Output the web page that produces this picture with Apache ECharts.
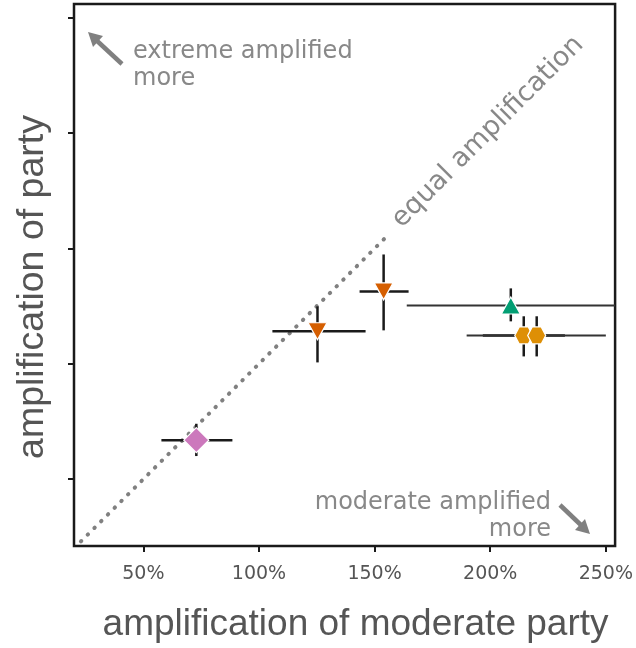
<!DOCTYPE html>
<html>
<head>
<meta charset="utf-8">
<script src="https://cdn.jsdelivr.net/npm/echarts@6/dist/echarts.min.js"></script>
<style>html,body{margin:0;padding:0;background:#fff}#chart{width:636px;height:648px}</style>
</head>
<body>
<div id="chart"></div>
<script>
// tick values (both axes in %)
var xTicks = [50, 100, 150, 200, 250];
var yTicks = [50, 100, 150, 200, 250];

// points: amplification of moderate party (x) vs amplification of party (y)
var ampModerate = [72.9, 125.3, 153.9, 208.9, 214.5, 220.1];
var ampParty    = [66.9, 114.1, 131.4, 125.3, 112.3, 112.3];
// error bar ends
var xLow  = [57.8, 105.8, 143.5, 163.9, 196.8, 189.8];
var xHigh = [88.5, 146.1, 164.7, 254.0, 232.3, 250.0];
var yLow  = [60.0, 100.6, 114.5, 118.4, 103.2, 103.2];
var yHigh = [74.0, 124.9, 147.4, 132.7, 120.6, 120.6];
var markShape = ['diamond', 'triangleDown', 'triangleDown', 'triangle', 'hexagon', 'hexagon'];
var markColor = ['#CC78BC', '#D55E00', '#D55E00', '#029E73', '#DE8F05', '#DE8F05'];
var barColor  = ['#1a1a1a', '#1a1a1a', '#1a1a1a', '#333', '#1a1a1a', '#333'];

// equal amplification diagonal
var equalLine = [[23, 23], [155, 155]];

var hexPath = 'path://M25,0 L75,0 L100,43.3 L75,86.6 L25,86.6 L0,43.3 Z';

var barData = [];
var pointData = [];
for (var i = 0; i < ampModerate.length; i++) {
    barData.push([ampModerate[i], ampParty[i], xLow[i], xHigh[i], yLow[i], yHigh[i], i]);
    var shape = markShape[i];
    var item = {
        value: [ampModerate[i], ampParty[i]],
        itemStyle: { color: markColor[i], borderColor: '#fff', borderWidth: 1.2, opacity: 1 }
    };
    if (shape == 'diamond') {
        item.symbol = 'diamond';
        item.symbolSize = 25;
    } else if (shape == 'triangleDown') {
        item.symbol = 'triangle';
        item.symbolRotate = 180;
        item.symbolSize = [19, 17];
    } else if (shape == 'triangle') {
        item.symbol = 'triangle';
        item.symbolSize = [19, 17];
    } else {
        item.symbol = hexPath;
        item.symbolSize = [18, 17];
    }
    pointData.push(item);
}

var myChart = echarts.init(document.getElementById('chart'));

var option = {
    animation: false,
    grid: {
        left: 74, right: 20, top: 4, bottom: 100,
        show: true, borderColor: '#1a1a1a', borderWidth: 2.5
    },
    xAxis: {
        type: 'value',
        min: 20, max: 254,
        name: 'amplification of moderate party',
        nameLocation: 'middle',
        nameGap: 60,
        nameTextStyle: { fontFamily: 'Liberation Sans', fontSize: 37, color: '#555', padding: [0, 0, 0, 22] },
        axisLine: { show: false },
        splitLine: { show: false },
        axisTick: { show: true, length: 6, customValues: xTicks, lineStyle: { color: '#1a1a1a', width: 2 } },
        axisLabel: {
            customValues: xTicks,
            formatter: '{value}%',
            margin: 19,
            fontFamily: 'DejaVu Sans', fontSize: 19, color: '#555'
        }
    },
    yAxis: {
        type: 'value',
        min: 21, max: 256,
        name: 'amplification of party',
        nameLocation: 'middle',
        nameGap: 22,
        nameTextStyle: { fontFamily: 'Liberation Sans', fontSize: 37.5, color: '#555', padding: [0, 24, 0, 0] },
        axisLine: { show: false },
        splitLine: { show: false },
        axisTick: { show: true, length: 6, customValues: yTicks, lineStyle: { color: '#1a1a1a', width: 2 } },
        axisLabel: { show: false }
    },
    graphic: [
        // top-left note + arrow
        { type: 'line', shape: { x1: 122, y1: 64, x2: 95, y2: 39 }, style: { stroke: '#808080', lineWidth: 4.5 } },
        { type: 'polygon', shape: { points: [[88, 32], [103, 36], [93, 47]] }, style: { fill: '#808080' } },
        { type: 'text', left: 133, top: 38, style: { text: 'extreme amplified\nmore', font: '24px "DejaVu Sans"', fill: '#888', lineHeight: 27 } },
        // bottom-right note + arrow
        { type: 'line', shape: { x1: 560, y1: 505, x2: 583, y2: 527 }, style: { stroke: '#808080', lineWidth: 4.5 } },
        { type: 'polygon', shape: { points: [[590, 534], [575, 530], [585, 519]] }, style: { fill: '#808080' } },
        { type: 'text', x: 551, y: 489, style: { text: 'moderate amplified\nmore', font: '24px "DejaVu Sans"', fill: '#888', lineHeight: 27, align: 'right', verticalAlign: 'top' } },
        // diagonal label
        { type: 'text', x: 488, y: 132, rotation: Math.PI / 4,
          style: { text: 'equal amplification', font: '27px "DejaVu Sans"', fill: '#888', align: 'center', verticalAlign: 'middle' } }
    ],
    series: [
        {
            type: 'line',
            data: equalLine,
            symbol: 'none',
            z: 1,
            lineStyle: { color: '#808080', width: 4, type: [0.5, 9], cap: 'round' }
        },
        {
            type: 'custom',
            z: 2,
            data: barData,
            renderItem: function (params, api) {
                var y = api.value(1), x = api.value(0);
                var l = api.coord([api.value(2), y]);
                var r = api.coord([api.value(3), y]);
                var t = api.coord([x, api.value(5)]);
                var b = api.coord([x, api.value(4)]);
                var c = barColor[api.value(6)];
                var hst = { stroke: c, lineWidth: c == '#333' ? 2 : 2.5 };
                var vst = { stroke: '#1a1a1a', lineWidth: 2.5 };
                return {
                    type: 'group',
                    children: [
                        { type: 'line', shape: { x1: l[0], y1: l[1], x2: r[0], y2: r[1] }, style: hst },
                        { type: 'line', shape: { x1: t[0], y1: t[1], x2: b[0], y2: b[1] }, style: vst }
                    ]
                };
            }
        },
        {
            type: 'scatter',
            z: 3,
            data: pointData
        }
    ]
};
myChart.setOption(option);
</script>
</body>
</html>
